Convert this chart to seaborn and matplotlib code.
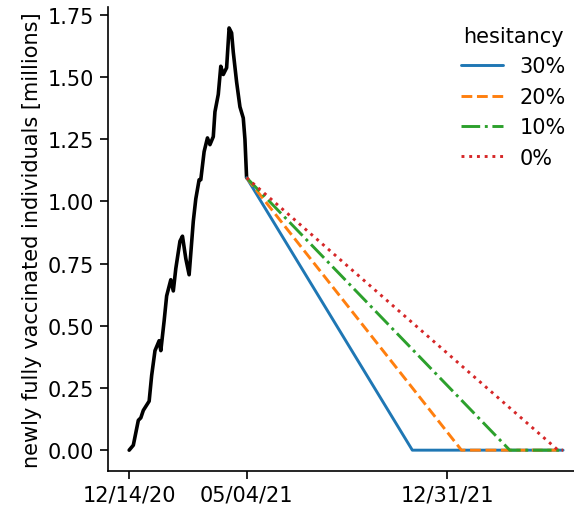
import numpy as np
import pandas as pd
import matplotlib
matplotlib.use("Agg")
import matplotlib.pyplot as plt
import matplotlib.dates as mdates
import seaborn as sns

obs_dates = [
    "2020-12-14", "2020-12-19", "2020-12-25", "2020-12-28", "2020-12-31",
    "2021-01-07", "2021-01-10", "2021-01-14", "2021-01-19", "2021-01-21",
    "2021-01-25", "2021-01-28", "2021-02-02", "2021-02-05", "2021-02-08",
    "2021-02-13", "2021-02-16", "2021-02-20", "2021-02-24", "2021-03-01",
    "2021-03-04", "2021-03-08", "2021-03-10", "2021-03-14", "2021-03-18",
    "2021-03-21", "2021-03-25", "2021-03-27", "2021-03-31", "2021-04-03",
    "2021-04-06", "2021-04-10", "2021-04-13", "2021-04-16", "2021-04-18",
    "2021-04-22", "2021-04-26", "2021-04-30", "2021-05-02", "2021-05-04",
]
obs_values = [
    0.00, 0.02, 0.12, 0.13, 0.16,
    0.197, 0.30, 0.40, 0.44, 0.40,
    0.52, 0.62, 0.685, 0.64, 0.73,
    0.84, 0.86, 0.77, 0.705, 0.92,
    1.01, 1.087, 1.087, 1.20, 1.255,
    1.228, 1.26, 1.36, 1.43, 1.543,
    1.51, 1.537, 1.697, 1.677, 1.60,
    1.48, 1.38, 1.335, 1.25, 1.095,
]

# projections by hesitancy level
hesitancy = ["30%", "20%", "10%", "0%"]
proj_start = "2021-05-04"
proj_start_value = 1.095
proj_zero_dates = ["2021-11-19", "2022-01-17", "2022-03-16", "2022-05-13"]
proj_end = "2022-05-19"
tick_dates = ["2020-12-14", "2021-05-04", "2021-12-31"]

colors = ["#1f77b4", "#ff7f0e", "#2ca02c", "#d62728"]
styles = ["-", "--", "-.", ":"]

sns.set_theme(style="ticks", rc={
    "text.color": "black", "axes.labelcolor": "black",
    "xtick.color": "black", "ytick.color": "black",
    "axes.edgecolor": "black",
})
plt.rcParams["font.family"] = ["DejaVu Sans"]

fig = plt.figure(figsize=(5.74, 5.10), dpi=100)
ax = fig.add_axes([0.1873, 0.0739, 0.8314, 0.9098])

sns.lineplot(x=pd.to_datetime(obs_dates), y=obs_values, color="black",
             linewidth=2.6, ax=ax)

for lab, zd, c, ls in zip(hesitancy, proj_zero_dates, colors, styles):
    xs = pd.to_datetime([proj_start, zd, proj_end])
    ys = [proj_start_value, 0.0, 0.0]
    sns.lineplot(x=xs, y=ys, color=c, linestyle=ls, linewidth=2.1,
                 label=lab, ax=ax)

ax.set_xlim(pd.Timestamp("2020-11-18"), pd.Timestamp("2022-06-14"))
ax.set_ylim(-0.085, 1.78)
ax.set_xticks(pd.to_datetime(tick_dates))
ax.xaxis.set_major_formatter(mdates.DateFormatter("%m/%d/%y"))
ax.set_yticks(np.arange(0, 1.76, 0.25))
ax.tick_params(labelsize=15, width=1.2, length=6)
ax.set_ylabel("newly fully vaccinated individuals [millions]", fontsize=15)
ax.set_xlabel("")
for s in ["left", "bottom"]:
    ax.spines[s].set_linewidth(1.2)
sns.despine(ax=ax)

leg = ax.legend(title="hesitancy", frameon=False, loc="upper right",
                fontsize=15, title_fontsize=15)

fig.savefig("out.png", dpi=100)
